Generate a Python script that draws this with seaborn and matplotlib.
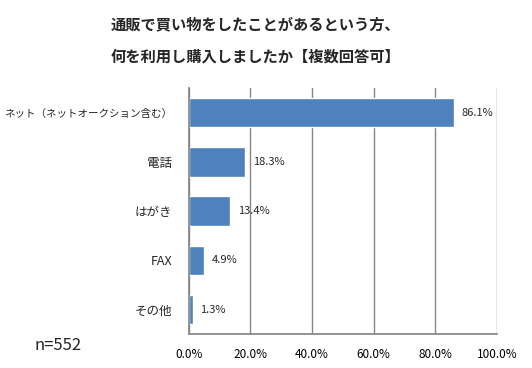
import matplotlib
matplotlib.use("Agg")
import matplotlib.pyplot as plt
import seaborn as sns
import pandas as pd
from matplotlib.ticker import PercentFormatter

categories = ["ネット（ネットオークション含む）", "電話", "はがき", "FAX", "その他"]
values = [86.1, 18.3, 13.4, 4.9, 1.3]
ticks = [0, 20, 40, 60, 80, 100]
title = "通販で買い物をしたことがあるという方、\n何を利用し購入しましたか【複数回答可】"

sns.set_theme(style="white")
plt.rcParams["font.family"] = ["Noto Sans CJK JP", "DejaVu Sans"]

df = pd.DataFrame({"cat": categories, "val": values})

fig = plt.figure(figsize=(5.32, 3.68), dpi=100)
ax = fig.add_axes([0.355, 0.092, 0.579, 0.669])

sns.barplot(data=df, x="val", y="cat", color="#4F81BD", saturation=1,
            width=0.6, ax=ax)

ax.set_xlim(0, 100)
ax.set_xticks(ticks)
ax.xaxis.set_major_formatter(PercentFormatter(decimals=1))
ax.grid(axis="x", color="#868686", linewidth=1)
ax.set_axisbelow(True)
for s in ["top", "right"]:
    ax.spines[s].set_visible(False)
ax.spines["left"].set_color("#868686")
ax.spines["bottom"].set_color("#868686")
ax.set_xlabel("")
ax.set_ylabel("")
ax.tick_params(axis="x", labelsize=8.5, pad=10, colors="black", length=0)
ax.tick_params(axis="y", labelsize=9, pad=12, length=0)
# long label gets a smaller size so it fits
ax.get_yticklabels()[0].set_fontsize(7.6)

for i, v in enumerate(values):
    ax.text(v + 2.5, i, f"{v:.1f}%", va="center", ha="left", fontsize=8)

fig.text(0.48, 0.89, title, ha="center", va="center", fontsize=11,
         fontweight="bold", linespacing=2.2)
fig.text(0.065, 0.062, "n=552", ha="left", va="center", fontsize=12)

fig.savefig("out.png", dpi=100)
